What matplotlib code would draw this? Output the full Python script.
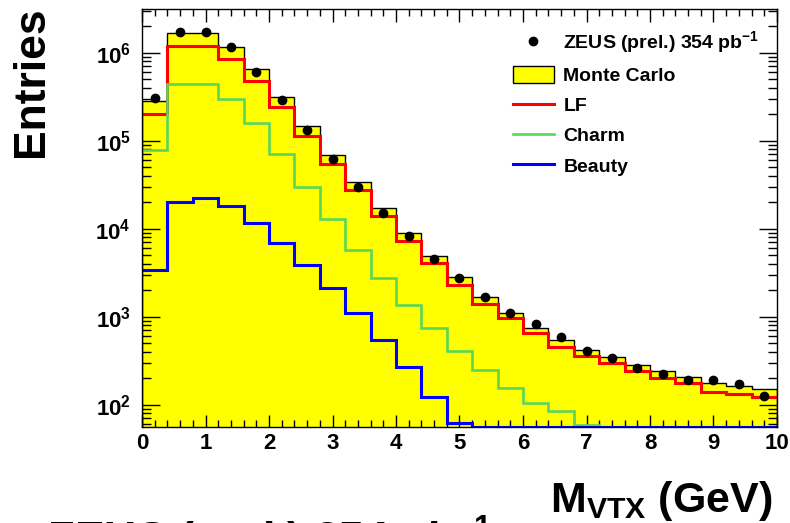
import numpy as np
import matplotlib
matplotlib.use("Agg")
import matplotlib.pyplot as plt
from matplotlib.ticker import LogLocator, NullFormatter, MultipleLocator, FuncFormatter
from matplotlib.lines import Line2D
from matplotlib.patches import Patch

edges = [0.0, 0.4, 0.8, 1.2, 1.6, 2.0, 2.4, 2.8, 3.2, 3.6, 4.0, 4.4, 4.8,
         5.2, 5.6, 6.0, 6.4, 6.8, 7.2, 7.6, 8.0, 8.4, 8.8, 9.2, 9.6, 10.0]

data = [3.08e5, 1.71e6, 1.71e6, 1.15e6, 6.1e5, 2.9e5, 1.32e5, 6.15e4, 2.98e4,
        1.50e4, 8.3e3, 4.5e3, 2.73e3, 1.69e3, 1.11e3, 820, 583, 408, 340,
        263, 221, 191, 191, 171, 124]
mc = [2.82e5, 1.66e6, 1.66e6, 1.15e6, 6.47e5, 3.14e5, 1.47e5, 6.93e4, 3.40e4,
      1.71e4, 8.87e3, 4.9e3, 2.8e3, 1.66e3, 1.11e3, 738, 543, 419, 346,
      285, 242, 205, 175, 164, 151]
lf = [2.0e5, 1.2e6, 1.2e6, 8.4e5, 4.8e5, 2.4e5, 1.14e5, 5.5e4, 2.73e4,
      1.40e4, 7.3e3, 4.05e3, 2.31e3, 1.39e3, 957, 647, 456, 361, 295,
      242, 200, 175, 141, 131, 121]
charm = [7.8e4, 4.4e5, 4.4e5, 3.0e5, 1.58e5, 7.0e4, 3.0e4, 1.3e4, 5.8e3,
         2.73e3, 1.36e3, 750, 411, 248, 153, 104, 85.5, 59, 45, 36, 29,
         24, 20, 17, 14]
beauty = [3.4e3, 2.0e4, 2.23e4, 1.8e4, 1.15e4, 6.8e3, 3.9e3, 2.1e3, 1.09e3,
          543, 270, 123, 62, 30, 15, 8, 4, 2, 1, 0.6, 0.3, 0.2, 0.1,
          0.05, 0.02]

ymin, ymax = 56.5, 3.18e6

plt.rcParams.update({
    "font.family": ["Liberation Sans", "DejaVu Sans"],
    "font.weight": "bold",
    "mathtext.fontset": "custom",
    "mathtext.rm": "Liberation Sans:bold",
    "mathtext.it": "Liberation Sans:bold",
    "mathtext.bf": "Liberation Sans:bold",
    "mathtext.sf": "Liberation Sans:bold",
})

fig = plt.figure(figsize=(7.9, 5.23), dpi=100)
ax = fig.add_axes([142 / 790, 1 - 426.5 / 523, 635 / 790, 418 / 523])

centers = [(a + b) / 2 for a, b in zip(edges[:-1], edges[1:])]

# ROOT draws bins below the minimum along the bottom of the frame
def floor(v):
    return np.maximum(np.asarray(v, float), ymin)

ax.stairs(mc, edges, baseline=1, fill=True, color="#FFFF00", lw=0, zorder=1)
ax.stairs(mc, edges, baseline=1, color="black", lw=1.0, zorder=2)
ax.stairs(floor(lf), edges, baseline=None, color="#FF0000", lw=2.2, zorder=3)
ax.stairs(floor(charm), edges, baseline=None, color="#5AD75A", lw=1.9, zorder=3)
ax.stairs(floor(beauty), edges, baseline=None, color="#0000FF", lw=2.2, zorder=4)
ax.plot(centers, data, "o", color="black", ms=6, zorder=5)

ax.set_yscale("log")
ax.set_xlim(0, 10)
ax.set_ylim(ymin, ymax)

ax.xaxis.set_major_locator(MultipleLocator(1))
ax.xaxis.set_minor_locator(MultipleLocator(0.2))
ax.yaxis.set_major_locator(LogLocator(base=10, numticks=20))
ax.yaxis.set_minor_locator(LogLocator(base=10, subs=range(2, 10), numticks=20))
ax.yaxis.set_minor_formatter(NullFormatter())
ax.yaxis.set_major_formatter(
    FuncFormatter(lambda v, p: r"$10^{%d}$" % int(round(np.log10(v)))))

ax.tick_params(which="both", direction="in", top=True, right=True,
               colors="black", width=1, labelsize=16)
ax.tick_params(axis="x", which="major", length=9, pad=5)
ax.tick_params(axis="x", which="minor", length=5)
ax.tick_params(axis="y", which="major", length=13, pad=8)
ax.tick_params(axis="y", which="minor", length=6.5)
for s in ax.spines.values():
    s.set_linewidth(1.0)
    s.set_zorder(6)

handles = [
    Line2D([], [], marker="o", ls="none", color="black", ms=6),
    Patch(facecolor="#FFFF00", edgecolor="black", lw=1),
    Line2D([], [], color="#FF0000", lw=2.2),
    Line2D([], [], color="#5AD75A", lw=1.9),
    Line2D([], [], color="#0000FF", lw=2.2),
]
labels = [r"ZEUS (prel.) 354 pb$^{-1}$", "Monte Carlo", "LF", "Charm", "Beauty"]
ax.legend(handles, labels, loc="upper left", bbox_to_anchor=(0.584, 0.95),
          frameon=False, fontsize=14, handlelength=2.1, handleheight=1.0,
          handletextpad=0.5, labelspacing=0.55, borderpad=0, borderaxespad=0)

fig.text(31 / 790, 1 - 82 / 523, "Entries", rotation=90, ha="center",
         va="center", fontsize=32, fontweight="bold")
fig.text(772 / 790, 1 - 512 / 523, r"M$_{\mathregular{VTX}}$ (GeV)",
         ha="right", va="baseline", fontsize=31, fontweight="bold")
# caption below the canvas edge; only its top shows, as in the original
fig.text(47 / 790, 1 - 555 / 523, r"ZEUS (prel.) 354 pb$^{-1}$",
         ha="left", va="baseline", fontsize=32, fontweight="bold")

fig.savefig("out.png", dpi=100)
